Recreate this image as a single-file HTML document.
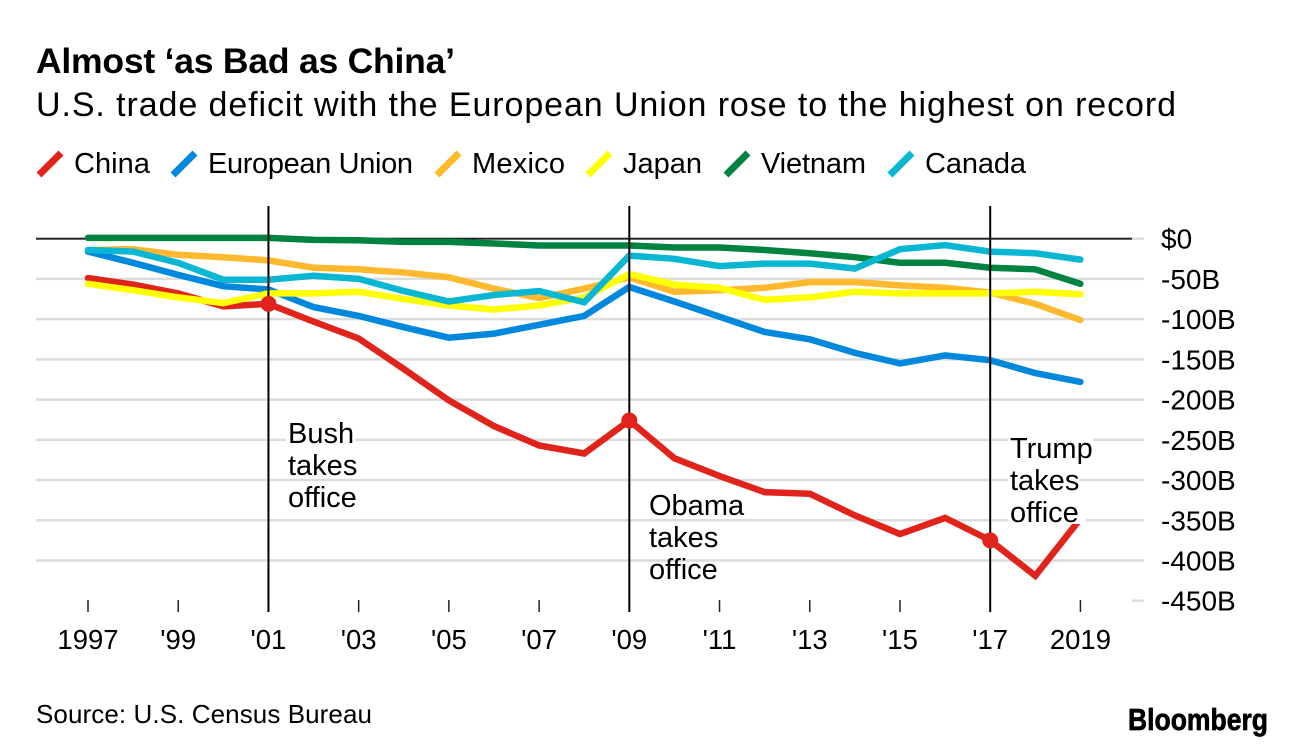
<!DOCTYPE html>
<html lang="en">
<head>
<meta charset="utf-8">
<title>Almost 'as Bad as China'</title>
<style>
html,body{margin:0;padding:0;background:#fff;}
svg{display:block;font-family:"Liberation Sans",sans-serif;fill:#000;}
</style>
</head>
<body>
<svg id="chart" width="1296" height="746" viewBox="0 0 1296 746" xmlns="http://www.w3.org/2000/svg">
  <rect width="1296" height="746" fill="#fff"/>
  <text x="36" y="73" font-size="35.5" font-weight="700" textLength="419" lengthAdjust="spacing">Almost ‘as Bad as China’</text>
  <text x="36" y="116" font-size="34" textLength="1140" lengthAdjust="spacing">U.S. trade deficit with the European Union rose to the highest on record</text>
  <g id="legend"></g>
  <g id="grid"></g>
  <g id="xticks"></g>
  <g id="series"></g>
  <g id="events"></g>
  <g id="ylabels"></g>
  <g id="xlabels"></g>
  <g fill="#fff">
    <rect x="286" y="421" width="69" height="24"/>
    <rect x="1008" y="436" width="85" height="24"/>
    <rect x="1008" y="468" width="72" height="24"/>
    <rect x="1008" y="500" width="78" height="24"/>
  </g>
  <text font-size="29"><tspan x="288" y="443">Bush</tspan><tspan x="288" y="475">takes</tspan><tspan x="288" y="507">office</tspan></text>
  <text font-size="29"><tspan x="649" y="515">Obama</tspan><tspan x="649" y="547">takes</tspan><tspan x="649" y="579">office</tspan></text>
  <text font-size="29"><tspan x="1010" y="458">Trump</tspan><tspan x="1010" y="490">takes</tspan><tspan x="1010" y="522">office</tspan></text>
  <text x="36" y="723" font-size="26" textLength="336" lengthAdjust="spacing">Source: U.S. Census Bureau</text>
  <text x="1128" y="730" font-size="31" font-weight="700" stroke="#000" stroke-width="0.7" textLength="140" lengthAdjust="spacingAndGlyphs">Bloomberg</text>
</svg>
<script>
var years = [1997,1998,1999,2000,2001,2002,2003,2004,2005,2006,2007,2008,2009,2010,2011,2012,2013,2014,2015,2016,2017,2018,2019];
var china = [-49,-57,-68,-84,-81,-103,-124,-162,-201,-233,-257,-267,-226,-273,-295,-315,-317,-344,-367,-347,-375,-419,-348];
var europeanUnion = [-16,-30,-45,-59,-63,-85,-96,-110,-123,-118,-107,-96,-60,-78,-97,-116,-125,-142,-155,-145,-151,-167,-178];
var mexico = [-14,-13,-20,-23,-27,-36,-38,-42,-48,-62,-74,-62,-48,-66,-64,-61,-54,-54,-58,-61,-67,-81,-101];
var japan = [-56,-64,-73,-80,-68,-68,-66,-75,-83,-88,-83,-73,-44,-57,-61,-76,-73,-66,-68,-68,-68,-66,-69];
var vietnam = [1,1,1,1,1,-1.5,-2,-4,-4,-6,-8.5,-8.5,-8.5,-11,-11,-14,-18,-23,-30,-30,-36,-38,-56];
var canada = [-14,-16,-30,-51,-51,-46,-50,-65,-78,-70,-65,-79,-21,-25,-34,-31,-31,-37,-13,-8,-16,-18,-26];
var seriesNames = ['China','European Union','Mexico','Japan','Vietnam','Canada'];
var seriesValues = [china,europeanUnion,mexico,japan,vietnam,canada];
var seriesColors = ['#e0241c','#0088dd','#ffb92e','#ffff00','#008240','#0ab7d3'];
var yTicks = [0,-50,-100,-150,-200,-250,-300,-350,-400,-450];
var yTickLabels = ['$0','-50B','-100B','-150B','-200B','-250B','-300B','-350B','-400B','-450B'];
var xTicks = [1997,1999,2001,2003,2005,2007,2009,2011,2013,2015,2017,2019];
var xTickLabels = ['1997',"'99","'01","'03","'05","'07","'09","'11","'13","'15","'17",'2019'];
var eventYears = [2001,2009,2017];
var eventNames = ['bush','obama','trump'];

var NS = 'http://www.w3.org/2000/svg';
function x(year){ return 88 + (year - 1997) * 45.11; }
function y(value){ return 238.7 + (0 - value) * 0.8045; }
function make(tag, parentId){
  var el = document.createElementNS(NS, tag);
  document.getElementById(parentId).appendChild(el);
  return el;
}
function setLine(el, x1, y1, x2, y2, color, width){
  el.setAttribute('x1', x1);
  el.setAttribute('y1', y1);
  el.setAttribute('x2', x2);
  el.setAttribute('y2', y2);
  el.setAttribute('stroke', color);
  el.setAttribute('stroke-width', width);
}

yTicks.forEach(function(t, i){
  var g = make('line', 'grid');
  
  
  var left = t === -450 ? 1132 : 36;
  setLine(g, left, y(t), 1144, y(t), '#dcdcdc', 2.5);
  var lab = make('text', 'ylabels');
  
  
  lab.setAttribute('x', 1161);
  lab.setAttribute('y', y(t) + 10);
  lab.setAttribute('font-size', 28);
  lab.textContent = yTickLabels[i];
});

var zero = make('line', 'grid');


setLine(zero, 36, y(0), 1132, y(0), '#222', 1.8);

xTicks.forEach(function(t, i){
  var tick = make('line', 'xticks');
  
  
  setLine(tick, x(t), 600, x(t), 612, '#222', 1.5);
  var lab = make('text', 'xlabels');
  
  
  lab.setAttribute('x', x(t));
  lab.setAttribute('y', 649);
  lab.setAttribute('font-size', 27.5);
  lab.setAttribute('text-anchor', 'middle');
  lab.textContent = xTickLabels[i];
});

seriesValues.forEach(function(vals, i){
  var pts = vals.map(function(v, k){ return x(years[k]).toFixed(1) + ',' + y(v).toFixed(1); }).join(' ');
  var p = make('polyline', 'series');
  
  
  p.setAttribute('data-series', seriesNames[i]);
  p.setAttribute('points', pts);
  p.setAttribute('fill', 'none');
  p.setAttribute('stroke', seriesColors[i]);
  p.setAttribute('stroke-width', 6.5);
  p.setAttribute('stroke-linecap', 'round');
  p.setAttribute('stroke-linejoin', 'miter');
});

eventYears.forEach(function(yr, i){
  var v = make('line', 'events');
  
  
  setLine(v, x(yr), 206, x(yr), 612, '#000', 2);
  var c = make('circle', 'events');
  
  
  c.setAttribute('cx', x(yr));
  c.setAttribute('cy', y(china[years.indexOf(yr)]));
  c.setAttribute('r', 8);
  c.setAttribute('fill', seriesColors[0]);
});

var legendSwatchX = [39,173,437,588,726,890];
var legendTextX = [74,208,472,623,761,925];
var legendTextW = [76,205,93,79,105,101];
seriesNames.forEach(function(name, i){
  var s = make('line', 'legend');
  
  
  setLine(s, legendSwatchX[i], 175, legendSwatchX[i] + 22, 153, seriesColors[i], 7);
  var t = make('text', 'legend');
  
  
  t.setAttribute('x', legendTextX[i]);
  t.setAttribute('y', 173);
  t.setAttribute('font-size', 29);
  t.setAttribute('textLength', legendTextW[i]);
  t.setAttribute('lengthAdjust', 'spacing');
  t.textContent = name;
});
</script>
</body>
</html>
